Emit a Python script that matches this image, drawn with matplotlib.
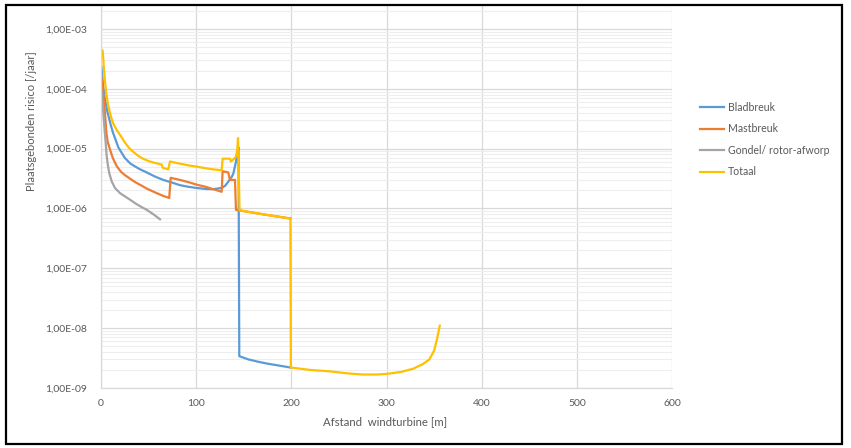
import matplotlib
matplotlib.use("Agg")
import matplotlib.pyplot as plt
from matplotlib.patches import Rectangle
from matplotlib.ticker import FixedLocator, LogLocator, NullFormatter

# Values (x in m, risk per year)
blad_x = [0.5, 1, 2.1, 3.9, 6.6, 10.2, 12.6, 18.2, 25, 31, 40, 48, 57, 65.4, 75, 83, 92, 100.5,
          110, 118, 126.8, 130.5, 133.7, 137, 139, 141.8, 143.2, 144.5,
          145.3, 155, 165, 175, 185, 199]
blad_y = [2.3e-4, 1.9e-4, 1.17e-4, 7.0e-5, 4.2e-5, 2.5e-5, 1.85e-5, 1.05e-5, 7.0e-6, 5.6e-6, 4.6e-6,
          4.0e-6, 3.4e-6, 3.0e-6, 2.7e-6, 2.45e-6, 2.3e-6, 2.2e-6,
          2.12e-6, 2.1e-6, 2.2e-6, 2.4e-6, 2.8e-6, 3.3e-6, 3.8e-6, 6.0e-6, 8.8e-6, 1.05e-5,
          3.4e-9, 3.0e-9, 2.75e-9, 2.55e-9, 2.4e-9, 2.2e-9]

mast_x = [0.5, 1, 3.2, 4.5, 5.6, 7, 9.5, 12.5, 16.5, 21, 25.2, 30.5, 36, 42.8, 48, 57, 65.4, 71.7,
          73.2, 83, 92, 100.5, 110, 118, 126.8, 127.8, 133.7, 135.5, 140.8, 141.8, 170, 199]
mast_y = [1.5e-4, 1.3e-4, 6.1e-5, 3.3e-5, 1.9e-5, 1.3e-5, 9.6e-6, 6.9e-6, 5.1e-6, 4.1e-6, 3.6e-6,
          3.15e-6, 2.75e-6, 2.4e-6, 2.15e-6, 1.85e-6, 1.62e-6, 1.5e-6,
          3.25e-6, 3.0e-6, 2.75e-6, 2.5e-6, 2.3e-6, 2.1e-6, 1.9e-6, 4.2e-6, 4.0e-6, 3.0e-6, 3.0e-6,
          9.5e-7, 8.0e-7, 6.8e-7]

gondel_x = [0.5, 1, 3, 5, 6, 7.3, 8.7, 11.2, 14.7, 20, 25, 30.5, 36, 42, 48, 55, 62]
gondel_y = [9.0e-5, 8.0e-5, 3.0e-5, 1.2e-5, 7.4e-6, 5.2e-6, 3.9e-6, 2.85e-6, 2.2e-6, 1.8e-6, 1.6e-6,
            1.4e-6, 1.22e-6, 1.07e-6, 9.5e-7, 8.0e-7, 6.6e-7]

totaal_x = [0.5, 1.8, 2.8, 3.9, 5.3, 7.4, 10.8, 13, 16.1, 20, 24, 27, 30.5, 34, 39, 44, 50, 56, 63.8,
            64.8, 70.7, 72.5, 83, 92, 100.5, 110, 118, 126.8, 127.8, 135.5, 136.6, 141.8, 143.2, 144,
            145.6, 170, 199, 199.5, 220, 240, 260, 275, 290, 300, 315, 328, 338, 345, 350, 353, 356]
totaal_y = [4.5e-4, 4.3e-4, 2.5e-4, 1.5e-4, 9.0e-5, 5.4e-5, 3.25e-5, 2.6e-5, 2.1e-5, 1.7e-5, 1.35e-5,
            1.15e-5, 9.9e-6, 8.8e-6, 7.6e-6, 6.8e-6, 6.2e-6, 5.8e-6, 5.4e-6,
            4.8e-6, 4.5e-6, 6.1e-6, 5.6e-6, 5.25e-6, 5.0e-6, 4.7e-6, 4.5e-6, 4.35e-6, 6.8e-6, 6.8e-6,
            6.1e-6, 7.3e-6, 9.6e-6, 1.5e-5,
            9.3e-7, 8.0e-7, 6.8e-7, 2.2e-9, 2.0e-9, 1.9e-9, 1.75e-9, 1.68e-9, 1.68e-9, 1.72e-9, 1.85e-9,
            2.1e-9, 2.5e-9, 3.0e-9, 4.2e-9, 6.5e-9, 1.1e-8]

x_ticks = [0, 100, 200, 300, 400, 500, 600]
y_ticks = [1e-9, 1e-8, 1e-7, 1e-6, 1e-5, 1e-4, 1e-3]
y_labels = ["1,00E-09", "1,00E-08", "1,00E-07", "1,00E-06", "1,00E-05", "1,00E-04", "1,00E-03"]

W, H = 851, 448
fig = plt.figure(figsize=(W / 100, H / 100), dpi=100)
plt.rcParams["font.family"] = ["Lato", "DejaVu Sans"]
txt = "#595959"

ax = fig.add_axes([101 / W, 1 - 388 / H, (672 - 101) / W, (388 - 6) / H])
ax.plot(blad_x, blad_y, color="#5B9BD5", lw=1.6, label="Bladbreuk")
ax.plot(mast_x, mast_y, color="#ED7D31", lw=1.6, label="Mastbreuk")
ax.plot(gondel_x, gondel_y, color="#A5A5A5", lw=1.6, label="Gondel/ rotor-afworp")
ax.plot(totaal_x, totaal_y, color="#FFC000", lw=1.6, label="Totaal")

ax.set_yscale("log")
ax.set_xlim(0, 600)
ax.set_ylim(1e-9, 10 ** (-3 + 23 / 60))
ax.yaxis.set_major_locator(FixedLocator(y_ticks))
ax.set_yticklabels(y_labels)
ax.yaxis.set_minor_locator(LogLocator(base=10, subs=range(2, 10), numticks=20))
ax.yaxis.set_minor_formatter(NullFormatter())
ax.set_xticks(x_ticks)
ax.set_xticklabels([str(v) for v in x_ticks])

ax.grid(True, which="major", color="#d9d9d9", lw=0.9)
ax.grid(True, which="minor", axis="y", color="#eeeeee", lw=0.8)
ax.set_axisbelow(True)
for s in ["top", "right"]:
    ax.spines[s].set_visible(False)
for s in ["left", "bottom"]:
    ax.spines[s].set_color("#d9d9d9")
    ax.spines[s].set_linewidth(0.9)
ax.tick_params(which="both", length=0, labelsize=7.5, labelcolor=txt)
ax.tick_params(axis="y", pad=10)
ax.tick_params(axis="x", pad=8)

fig.text(32 / W, 1 - 121 / H, "Plaatsgebonden risico [/jaar]", rotation=90,
         ha="center", va="center", fontsize=8, color=txt)
fig.text(385 / W, 1 - 422 / H, "Afstand  windturbine [m]", ha="center", va="center",
         fontsize=8.2, color=txt)

fig.legend(loc="center left", bbox_to_anchor=(700 / W, 1 - 139.5 / H), frameon=False,
           fontsize=7.6, labelcolor=txt, handlelength=2.3, handletextpad=0.35,
           labelspacing=1.0, borderpad=0, borderaxespad=0)

fig.add_artist(Rectangle((6 / W, 1 - 444 / H), 836 / W, 439 / H, transform=fig.transFigure,
                         fill=False, edgecolor="black", lw=1.6))

plt.savefig("out.png", dpi=100)
